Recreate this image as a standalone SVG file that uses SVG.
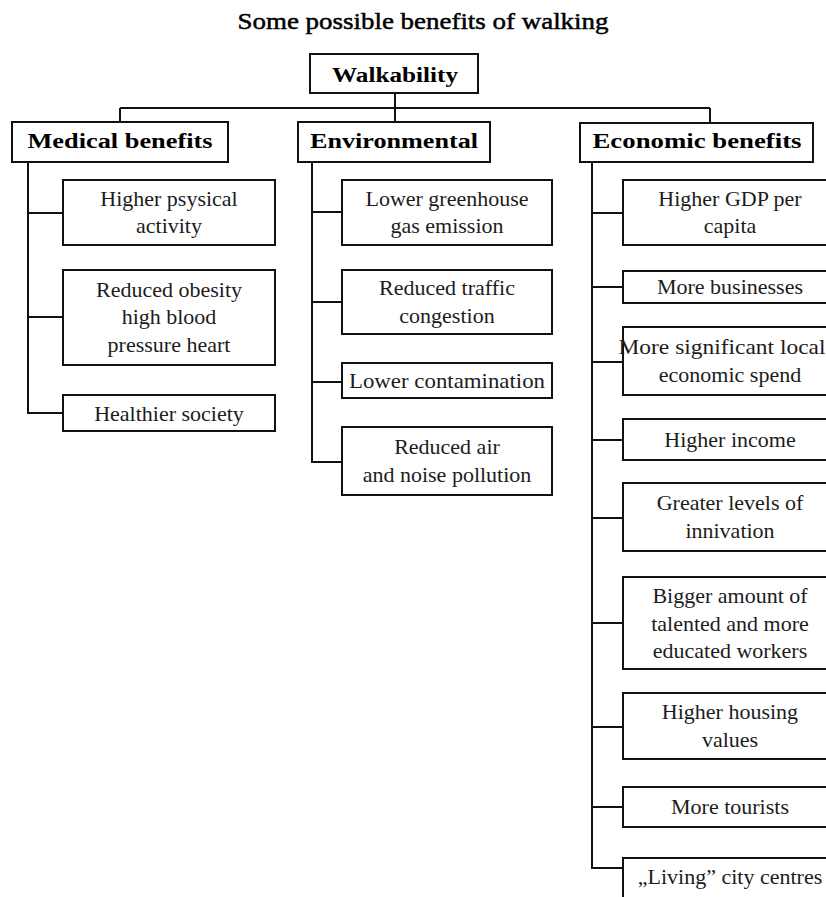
<svg xmlns="http://www.w3.org/2000/svg" width="826" height="897" viewBox="0 0 826 897" font-family="Liberation Serif, Times New Roman, serif">
  <style>
    .box { fill: #ffffff; stroke: #111111; stroke-width: 2; }
    .wire { fill: none; stroke: #111111; stroke-width: 2; }
  </style>

  <text x="423" y="29" font-size="24" fill="#000" stroke="#000" stroke-width="0.5" text-anchor="middle" textLength="371" lengthAdjust="spacingAndGlyphs">Some possible benefits of walking</text>

  <!-- connectors -->
  <g id="connectors">
    <path class="wire" d="M395 93 V108 M120 108 H710 M120 108 V122 M395 108 V122 M710 108 V123"/>
    <!-- medical branch -->
    <path class="wire" d="M28 162 V413 H63 M28 213 H63 M28 317 H63"/>
    <!-- environmental branch -->
    <path class="wire" d="M312 162 V462 H342 M312 212 H342 M312 302 H342 M312 382 H342"/>
    <!-- economic branch -->
    <path class="wire" d="M592 162 V868 H623 M592 213 H623 M592 287 H623 M592 362 H623 M592 440 H623 M592 518 H623 M592 623 H623 M592 727 H623 M592 807 H623"/>
  </g>

  <!-- headings: bold serif -->
  <g font-size="20" font-weight="bold" fill="#000" text-anchor="middle">
    <g id="walkability">
      <rect class="box" x="310" y="54" width="168" height="39"/>
      <text x="395" y="82" textLength="126" lengthAdjust="spacingAndGlyphs">Walkability</text>
    </g>
    <g id="medical">
      <rect class="box" x="12" y="122" width="216" height="40"/>
      <text x="120" y="148" textLength="185" lengthAdjust="spacingAndGlyphs">Medical benefits</text>
    </g>
    <g id="environmental">
      <rect class="box" x="298" y="122" width="192" height="40"/>
      <text x="394" y="148" textLength="168" lengthAdjust="spacingAndGlyphs">Environmental</text>
    </g>
    <g id="economic">
      <rect class="box" x="580" y="123" width="233" height="39"/>
      <text x="697" y="148" textLength="209" lengthAdjust="spacingAndGlyphs">Economic benefits</text>
    </g>
  </g>

  <!-- leaf items: regular serif -->
  <g font-size="22" fill="#1c1c1c" text-anchor="middle">
    <g id="med-activity">
      <rect class="box" x="63" y="180" width="212" height="65"/>
      <text x="169" y="206">Higher psysical</text>
      <text x="169" y="233">activity</text>
    </g>
    <g id="med-obesity">
      <rect class="box" x="63" y="270" width="212" height="95"/>
      <text x="169" y="297">Reduced obesity</text>
      <text x="169" y="324">high blood</text>
      <text x="169" y="352">pressure heart</text>
    </g>
    <g id="med-society">
      <rect class="box" x="63" y="395" width="212" height="36"/>
      <text x="169" y="421">Healthier society</text>
    </g>

    <g id="env-greenhouse">
      <rect class="box" x="342" y="180" width="210" height="65"/>
      <text x="447" y="206">Lower greenhouse</text>
      <text x="447" y="233">gas emission</text>
    </g>
    <g id="env-traffic">
      <rect class="box" x="342" y="270" width="210" height="64"/>
      <text x="447" y="295">Reduced traffic</text>
      <text x="447" y="323">congestion</text>
    </g>
    <g id="env-contamination">
      <rect class="box" x="342" y="363" width="210" height="35"/>
      <text x="447" y="388" textLength="196" lengthAdjust="spacingAndGlyphs">Lower contamination</text>
    </g>
    <g id="env-pollution">
      <rect class="box" x="342" y="427" width="210" height="68"/>
      <text x="447" y="454">Reduced air</text>
      <text x="447" y="482">and noise pollution</text>
    </g>

    <g id="eco-gdp">
      <rect class="box" x="623" y="180" width="214" height="65"/>
      <text x="730" y="206">Higher GDP per</text>
      <text x="730" y="233">capita</text>
    </g>
    <g id="eco-businesses">
      <rect class="box" x="623" y="271" width="214" height="32"/>
      <text x="730" y="294">More businesses</text>
    </g>
    <g id="eco-spend">
      <rect class="box" x="623" y="327" width="214" height="68"/>
      <text x="722" y="354" textLength="207" lengthAdjust="spacingAndGlyphs">More significant local</text>
      <text x="730" y="382">economic spend</text>
    </g>
    <g id="eco-income">
      <rect class="box" x="623" y="419" width="214" height="41"/>
      <text x="730" y="447">Higher income</text>
    </g>
    <g id="eco-innovation">
      <rect class="box" x="623" y="483" width="214" height="68"/>
      <text x="730" y="510">Greater levels of</text>
      <text x="730" y="538">innivation</text>
    </g>
    <g id="eco-workers">
      <rect class="box" x="623" y="577" width="214" height="92"/>
      <text x="730" y="603">Bigger amount of</text>
      <text x="730" y="631">talented and more</text>
      <text x="730" y="658">educated workers</text>
    </g>
    <g id="eco-housing">
      <rect class="box" x="623" y="693" width="214" height="66"/>
      <text x="730" y="719">Higher housing</text>
      <text x="730" y="747">values</text>
    </g>
    <g id="eco-tourists">
      <rect class="box" x="623" y="787" width="214" height="40"/>
      <text x="730" y="814">More tourists</text>
    </g>
    <g id="eco-centres">
      <rect class="box" x="623" y="858" width="214" height="44"/>
      <text x="730" y="884">„Living” city centres</text>
    </g>
  </g>
</svg>
